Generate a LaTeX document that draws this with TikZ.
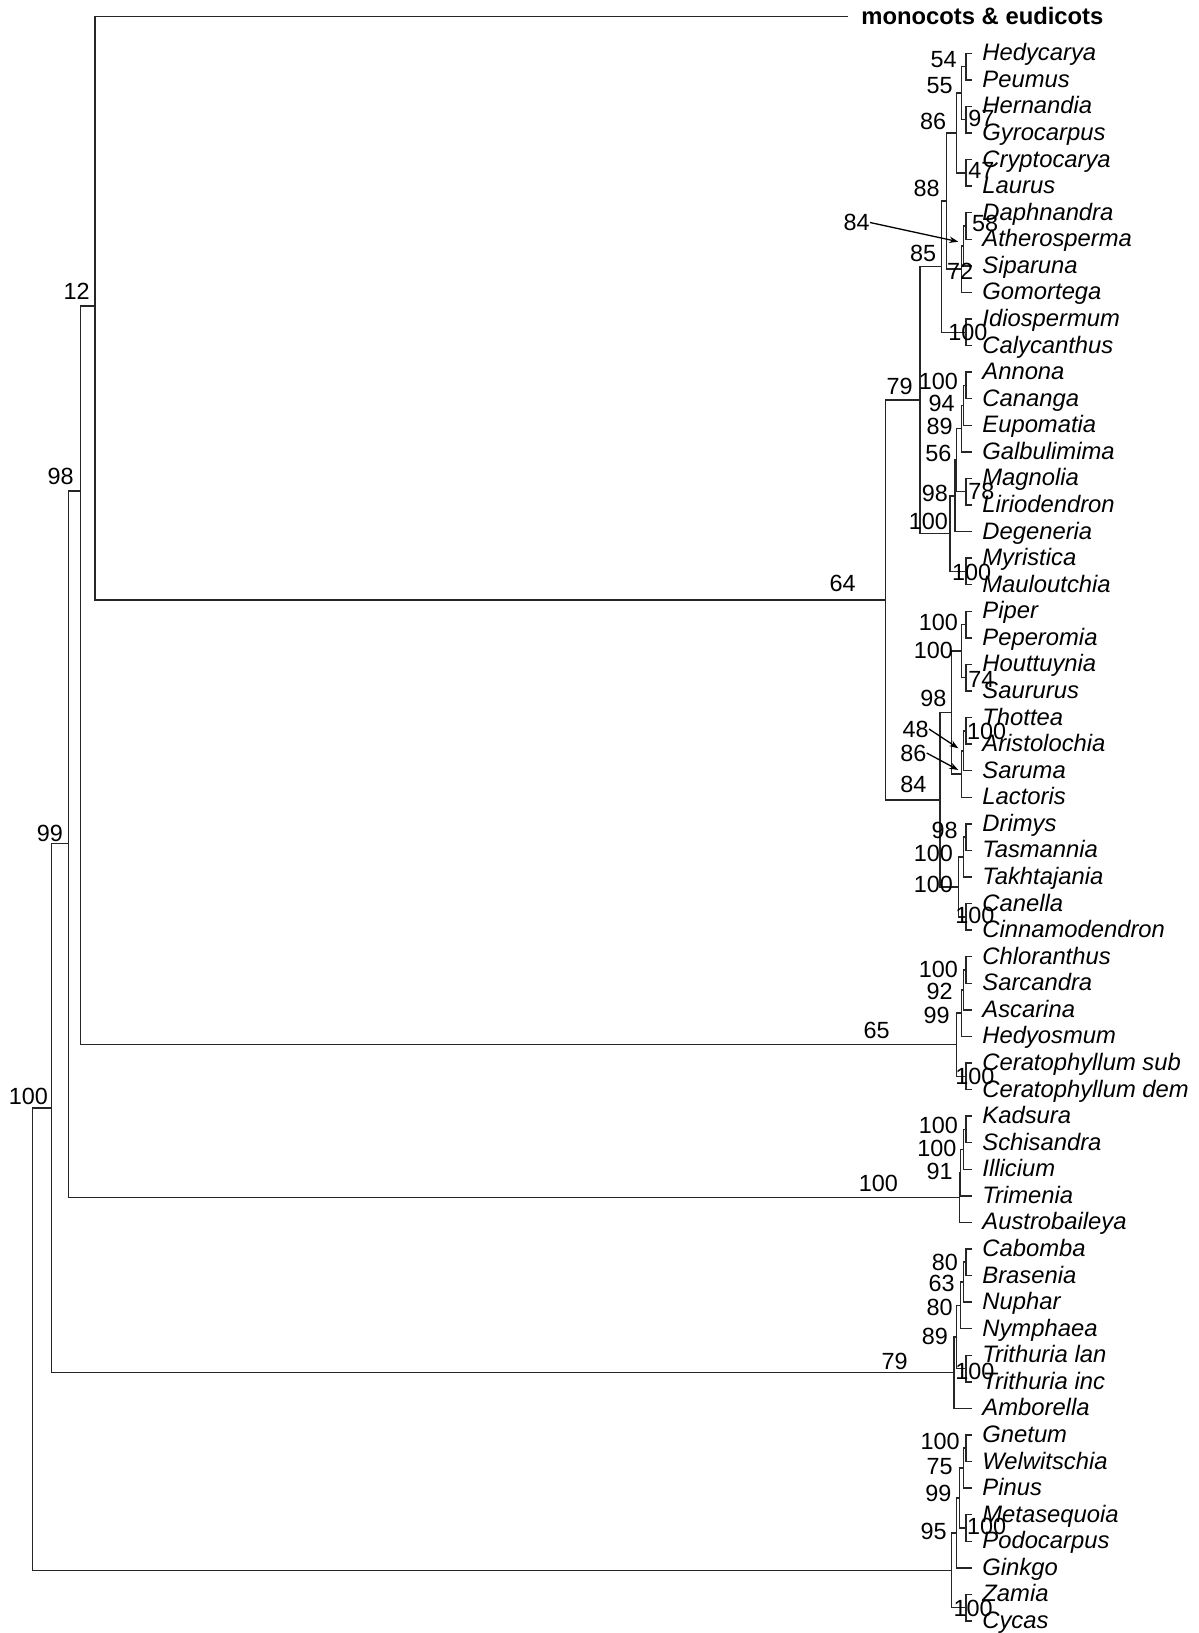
\documentclass[tikz,border=0pt]{standalone}
\usepackage{fontspec}
\setmainfont{Liberation Sans}
\usetikzlibrary{arrows.meta}

\begin{document}
\begin{tikzpicture}
[x=0.5pt,y=-0.5pt,>={Stealth[length=4.5pt,width=3.2pt]},
 br/.style = {draw=black!85, line width=0.72pt},
 leaf/.style = {anchor=base west, inner sep=0pt, font=\fontsize{11.9pt}{14pt}\selectfont\itshape},
 bs/.style = {inner sep=0pt, font=\fontsize{11.7pt}{14pt}\selectfont},
 bl/.style = {bs, anchor=east},
 bright/.style = {bs, anchor=west},]
\useasboundingbox (0,0) rectangle (1199,1633);

% leaves
\foreach \name [count=\i] in {Hedycarya,Peumus,Hernandia,Gyrocarpus,Cryptocarya,Laurus,
  Daphnandra,Atherosperma,Siparuna,Gomortega,Idiospermum,Calycanthus,Annona,Cananga,
  Eupomatia,Galbulimima,Magnolia,Liriodendron,Degeneria,Myristica,Mauloutchia,Piper,
  Peperomia,Houttuynia,Saururus,Thottea,Aristolochia,Saruma,Lactoris,Drimys,Tasmannia,
  Takhtajania,Canella,Cinnamodendron,Chloranthus,Sarcandra,Ascarina,Hedyosmum,
  Ceratophyllum sub,Ceratophyllum dem,Kadsura,Schisandra,Illicium,Trimenia,Austrobaileya,
  Cabomba,Brasenia,Nuphar,Nymphaea,Trithuria lan,Trithuria inc,Amborella,Gnetum,
  Welwitschia,Pinus,Metasequoia,Podocarpus,Ginkgo,Zamia,Cycas}{
  \pgfmathsetmacro\yy{53.3+(\i-1)*26.57}
  \coordinate (t\i) at (972,\yy);
  \node[leaf] (n\i) at (982,\yy+7.5) {\name};
}
\coordinate (mc) at (848.3,16.7);
\node[leaf,font=\fontsize{11.9pt}{14pt}\selectfont\bfseries] (mono) at (861,25) {monocots \& eudicots};

% Laurales
\coordinate (L1) at (966,66.6);
\coordinate (L3) at (966,119.7);
\coordinate (L2) at (961.7,93.1);
\coordinate (L4) at (966,172.9);
\coordinate (L5) at (956.7,133);
\coordinate (L6) at (966,226);
\coordinate (L7) at (963.3,245.9);
\coordinate (L8) at (961.7,269.2);
\coordinate (L9) at (946.7,201.1);
\coordinate (L10) at (966,332.3);
\coordinate (L11) at (941.7,266.7);
\draw[br] (L1) |- (t1) (L1) |- (t2) (L3) |- (t3) (L3) |- (t4);
\draw[br] (L2) |- (L1) (L2) |- (L3) (L4) |- (t5) (L4) |- (t6);
\draw[br] (L5) |- (L2) (L5) |- (L4);
\draw[br] (L6) |- (t7) (L6) |- (t8) (L7) |- (L6) (L7) |- (t9);
\draw[br] (L8) |- (L7) (L8) |- (t10) (L9) |- (L5) (L9) |- (L8);
\draw[br] (L10) |- (t11) (L10) |- (t12) (L11) |- (L9) (L11) |- (L10);

% Magnoliales
\coordinate (M1) at (966,385.4);
\coordinate (M2) at (963.3,405.3);
\coordinate (M3) at (961.7,428.6);
\coordinate (M4) at (966,491.7);
\coordinate (M5) at (956.7,460.2);
\coordinate (M6) at (955,495.9);
\coordinate (M7) at (966,571.4);
\coordinate (M8) at (950,533.7);
\coordinate (N79) at (920,400.2);
\draw[br] (M1) |- (t13) (M1) |- (t14) (M2) |- (M1) (M2) |- (t15);
\draw[br] (M3) |- (M2) (M3) |- (t16) (M4) |- (t17) (M4) |- (t18);
\draw[br] (M5) |- (M3) (M5) |- (M4) (M6) |- (M5) (M6) |- (t19);
\draw[br] (M7) |- (t20) (M7) |- (t21) (M8) |- (M6) (M8) |- (M7);
\draw[br] (N79) |- (L11) (N79) |- (M8);

% Piperales, Canellales
\coordinate (P1) at (966,624.6);
\coordinate (P2) at (966,677.7);
\coordinate (P3) at (961.7,651.2);
\coordinate (P4) at (966,730.9);
\coordinate (P5) at (963.3,750.8);
\coordinate (P6) at (961.7,774);
\coordinate (P7) at (951.7,712.6);
\coordinate (C1) at (966,837.1);
\coordinate (C2) at (963.3,857);
\coordinate (C3) at (966,916.8);
\coordinate (C4) at (958.3,886.9);
\coordinate (N84) at (940,799.8);
\coordinate (N64) at (885.7,600);
\draw[br] (P1) |- (t22) (P1) |- (t23) (P2) |- (t24) (P2) |- (t25);
\draw[br] (P3) |- (P1) (P3) |- (P2) (P4) |- (t26) (P4) |- (t27);
\draw[br] (P5) |- (P4) (P5) |- (t28) (P6) |- (P5) (P6) |- (t29);
\draw[br] (P7) |- (P3) (P7) |- (P6);
\draw[br] (C1) |- (t30) (C1) |- (t31) (C2) |- (C1) (C2) |- (t32);
\draw[br] (C3) |- (t33) (C3) |- (t34) (C4) |- (C2) (C4) |- (C3);
\draw[br] (N84) |- (P7) (N84) |- (C4) (N64) |- (N79) (N64) |- (N84);

% Chloranthales, Ceratophyllum
\coordinate (H1) at (966,970);
\coordinate (H2) at (963.3,989.9);
\coordinate (H3) at (961.7,1013.2);
\coordinate (H4) at (966,1076.3);
\coordinate (N65) at (956.7,1044.7);
\draw[br] (H1) |- (t35) (H1) |- (t36) (H2) |- (H1) (H2) |- (t37);
\draw[br] (H3) |- (H2) (H3) |- (t38) (H4) |- (t39) (H4) |- (t40);
\draw[br] (N65) |- (H3) (N65) |- (H4);

% Austrobaileyales
\coordinate (A1) at (966,1129.4);
\coordinate (A2) at (963.3,1149.3);
\coordinate (A3) at (960.7,1172.6);
\coordinate (A4) at (959.3,1197.5);
\draw[br] (A1) |- (t41) (A1) |- (t42) (A2) |- (A1) (A2) |- (t43);
\draw[br] (A3) |- (A2) (A3) |- (t44) (A4) |- (A3) (A4) |- (t45);

% Nymphaeales, Amborella
\coordinate (Y1) at (966,1262.2);
\coordinate (Y2) at (963.3,1282.2);
\coordinate (Y3) at (960.7,1305.4);
\coordinate (Y4) at (966,1368.5);
\coordinate (Y5) at (956.7,1337);
\coordinate (Y6) at (954,1372.7);
\draw[br] (Y1) |- (t46) (Y1) |- (t47) (Y2) |- (Y1) (Y2) |- (t48);
\draw[br] (Y3) |- (Y2) (Y3) |- (t49) (Y4) |- (t50) (Y4) |- (t51);
\draw[br] (Y5) |- (Y3) (Y5) |- (Y4) (Y6) |- (Y5) (Y6) |- (t52);

% gymnosperms
\coordinate (G1) at (966,1448.2);
\coordinate (G2) at (963.3,1468.2);
\coordinate (G3) at (966,1527.9);
\coordinate (G4) at (959.3,1498);
\coordinate (G5) at (956.7,1532.9);
\coordinate (G6) at (966,1607.6);
\coordinate (G7) at (951.7,1570.3);
\draw[br] (G1) |- (t53) (G1) |- (t54) (G2) |- (G1) (G2) |- (t55);
\draw[br] (G3) |- (t56) (G3) |- (t57) (G4) |- (G2) (G4) |- (G3);
\draw[br] (G5) |- (G4) (G5) |- (t58) (G6) |- (t59) (G6) |- (t60);
\draw[br] (G7) |- (G5) (G7) |- (G6);

% backbone
\coordinate (N12) at (95,306);
\coordinate (N98) at (80.7,491);
\coordinate (N99) at (68.3,843.5);
\coordinate (N100) at (51.7,1108);
\coordinate (R) at (32.3,1339);
\draw[br] (N12) |- (mc) (N12) |- (N64);
\draw[br] (N98) |- (N12) (N98) |- (N65);
\draw[br] (N99) |- (N98) (N99) |- (A4);
\draw[br] (N100) |- (N99) (N100) |- (Y6);
\draw[br] (R) |- (N100) (R) |- (G7);

% support values
\node[bl] (s54) at (957,60) {54};
\node[bl] (s55) at (953,85.5) {55};
\node[bright] (s97) at (968,118.5) {97};
\node[bl] (s86) at (946.5,121.5) {86};
\node[bright] (s47) at (968,170) {47};
\node[bl] (s88) at (940,188.5) {88};
\node[bright] (s58) at (971.7,223) {58};
\node[bl] (s85) at (936.5,253.5) {85};
\node[bright] (s72) at (946.7,271) {72};
\node[bright] (sL10) at (948,332) {100};
\node[bl] (sM1) at (958.3,381) {100};
\node[bl] (s79a) at (913,386.5) {79};
\node[bl] (s94) at (955,403.3) {94};
\node[bl] (s89a) at (953,426) {89};
\node[bl] (s56) at (951.7,453.3) {56};
\node[bright] (s78) at (968,491) {78};
\node[bl] (s98a) at (948.3,493.3) {98};
\node[bl] (sM8) at (948.3,521) {100};
\node[bright] (sM7) at (951.7,572) {100};
\node[bl] (s64) at (856,583.5) {64};
\node[bl] (sP1) at (958.3,622.3) {100};
\node[bl] (sP3) at (953.3,650) {100};
\node[bright] (s74) at (968,679) {74};
\node[bl] (s98b) at (946.7,698.3) {98};
\node[bright] (sP4) at (966.7,731) {100};
\node[bl] (s84b) at (926.7,784) {84};
\node[bl] (s98c) at (958,830) {98};
\node[bl] (sC2) at (953.3,853.3) {100};
\node[bl] (sC4) at (953.3,884) {100};
\node[bright] (sC3) at (955,915) {100};
\node[bl] (sH1) at (958.3,969) {100};
\node[bl] (s92) at (953,991) {92};
\node[bl] (s99a) at (950,1015) {99};
\node[bl] (s65) at (890,1030) {65};
\node[bright] (sH4) at (955,1076.5) {100};
\node[bl] (sA1) at (958.3,1125) {100};
\node[bl] (sA2) at (956.7,1148.3) {100};
\node[bl] (s91) at (953,1171.7) {91};
\node[bl] (sA4) at (898.3,1183.3) {100};
\node[bl] (s80a) at (958.3,1262.3) {80};
\node[bl] (s63) at (955,1283.3) {63};
\node[bl] (s80b) at (953,1307.3) {80};
\node[bl] (s89b) at (948.3,1336.5) {89};
\node[bl] (s79b) at (908,1361) {79};
\node[bright] (sY4) at (955,1371.5) {100};
\node[bl] (sG1) at (960,1441.7) {100};
\node[bl] (s75) at (953,1466.7) {75};
\node[bl] (s99b) at (951.7,1493.3) {99};
\node[bright] (sG3) at (966.7,1526) {100};
\node[bl] (s95) at (947,1531.5) {95};
\node[bright] (sG6) at (953.3,1608) {100};
\node[bl] (s12) at (90,291.7) {12};
\node[bl] (s98d) at (74,476) {98};
\node[bl] (s99c) at (63.3,833) {99};
\node[bl] (s100r) at (48.3,1096) {100};

% arrows to crowded nodes
\node[bl] (s84a) at (870,222.5) {84};
\node[bl] (s48) at (929,729) {48};
\node[bl] (s86b) at (926.7,753) {86};
\coordinate (a84) at (958.3,241.7);
\coordinate (a48) at (958.3,748.3);
\coordinate (a86) at (958.3,770);
\draw[->,line width=0.65pt] (s84a.east) -- (a84);
\draw[->,line width=0.65pt] (s48.east) -- (a48);
\draw[->,line width=0.65pt] (s86b.east) -- (a86);

\end{tikzpicture}
\end{document}
